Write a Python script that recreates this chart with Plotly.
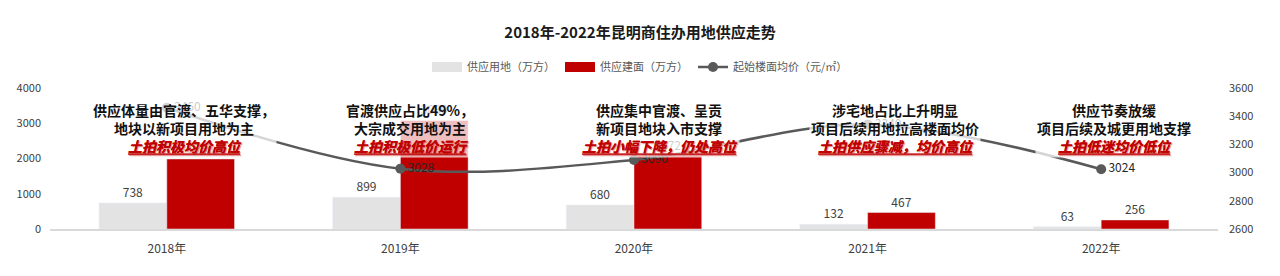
import plotly.graph_objects as go

years = ["2018年", "2019年", "2020年", "2021年", "2022年"]
land_supply = [738, 899, 680, 132, 63]          # 供应用地（万方）
floor_supply = [1986, 3080, 2072, 467, 256]     # 供应建面（万方）
avg_price = [3460, 3028, 3090, 3340, 3024]      # 起始楼面均价（元/㎡）
notes_black = [
    "供应体量由官渡、五华支撑，<br>地块以新项目用地为主",
    "官渡供应占比49%，<br>大宗成交用地为主",
    "供应集中官渡、呈贡<br>新项目地块入市支撑",
    "涉宅地占比上升明显<br>项目后续用地拉高楼面均价",
    "供应节奏放缓<br>项目后续及城更用地支撑",
]
notes_red = [
    "土拍积极均价高位",
    "土拍积极低价运行",
    "土拍小幅下降，仍处高位",
    "土拍供应骤减，均价高位",
    "土拍低迷均价低位",
]
legend_names = ["供应用地（万方）", "供应建面（万方）", "起始楼面均价（元/㎡）"]

GRAY = "#e3e3e3"
RED = "#c00000"
LINE = "#595959"
FONT = "Noto Sans CJK SC"

fig = go.Figure()
fig.add_trace(go.Bar(
    x=years, y=land_supply, name=legend_names[0], marker_color=GRAY,
    text=land_supply, textposition="outside", showlegend=False,
    textfont=dict(size=12, color="#404040", family=FONT), cliponaxis=False,
))
fig.add_trace(go.Bar(
    x=years, y=floor_supply, name=legend_names[1], marker_color=RED,
    text=floor_supply, textposition="outside", showlegend=False,
    textfont=dict(size=12, color="#404040", family=FONT), cliponaxis=False,
))
# legend-only entries (wide rectangles like the reference)
fig.add_trace(go.Scatter(x=[None], y=[None], mode="lines", name=legend_names[0],
                         line=dict(color=GRAY, width=10)))
fig.add_trace(go.Scatter(x=[None], y=[None], mode="lines", name=legend_names[1],
                         line=dict(color=RED, width=10)))
fig.add_trace(go.Scatter(
    x=years, y=avg_price, name=legend_names[2], yaxis="y2",
    mode="lines+markers+text", line=dict(color=LINE, width=2.5, shape="spline", smoothing=1),
    marker=dict(color=LINE, size=10), text=avg_price, textposition="middle right",
    textfont=dict(size=12, color="#262626", family=FONT), cliponaxis=False,
))

offsets = [0.073, 0.043, 0.11, 0.116, 0.056]
for i in range(len(years)):
    txt = (f"<b>{notes_black[i]}</b><br>"
           f"<span style=\"color:{RED};font-style:italic;text-decoration:underline;"
           f"text-shadow:1px 1px 1px rgba(192,0,0,0.3)\"><b>{notes_red[i]}</b></span>")
    fig.add_annotation(
        x=i + offsets[i], xref="x", y=0.716, yref="paper", text=txt,
        showarrow=False, xanchor="center", yanchor="middle", align="center",
        font=dict(size=14, color="#111111", family=FONT),
        bgcolor="rgba(255,255,255,0.75)", borderpad=1,
    )

fig.update_layout(
    width=1280, height=276,
    margin=dict(l=50, r=62, t=88, b=47, autoexpand=False),
    paper_bgcolor="white", plot_bgcolor="white",
    barmode="group", bargap=0.42, bargroupgap=0,
    font=dict(family=FONT, color="#595959", size=11),
    title=dict(text="<b>2018年-2022年昆明商住办用地供应走势</b>", x=0.5, xref="container",
               xanchor="center", y=1 - 33 / 276, yref="container", yanchor="middle",
               font=dict(size=15, color="#1a1a1a", family=FONT)),
    legend=dict(orientation="h", x=0.5, xref="container", xanchor="center",
                y=1 + 21 / 141, yref="paper", yanchor="middle",
                font=dict(size=11, color="#595959", family=FONT),
                itemwidth=30, traceorder="normal", bgcolor="rgba(0,0,0,0)"),
    xaxis=dict(type="category", range=[-0.5, 4.5], showgrid=False, showline=True,
               linecolor="#d9d9d9", linewidth=1.5, ticks="", ticklabelstandoff=8,
               tickfont=dict(size=12, color="#404040", family=FONT)),
    yaxis=dict(range=[0, 4000], dtick=1000, showgrid=False, zeroline=False,
               showline=False, ticks="", ticklabelstandoff=8,
               tickfont=dict(size=11, color="#404040", family=FONT)),
    yaxis2=dict(range=[2600, 3600], dtick=200, overlaying="y", side="right",
                showgrid=False, zeroline=False, showline=False, ticks="",
                ticklabelstandoff=10,
                tickfont=dict(size=11, color="#404040", family=FONT)),
)

fig.write_html("out.html")
